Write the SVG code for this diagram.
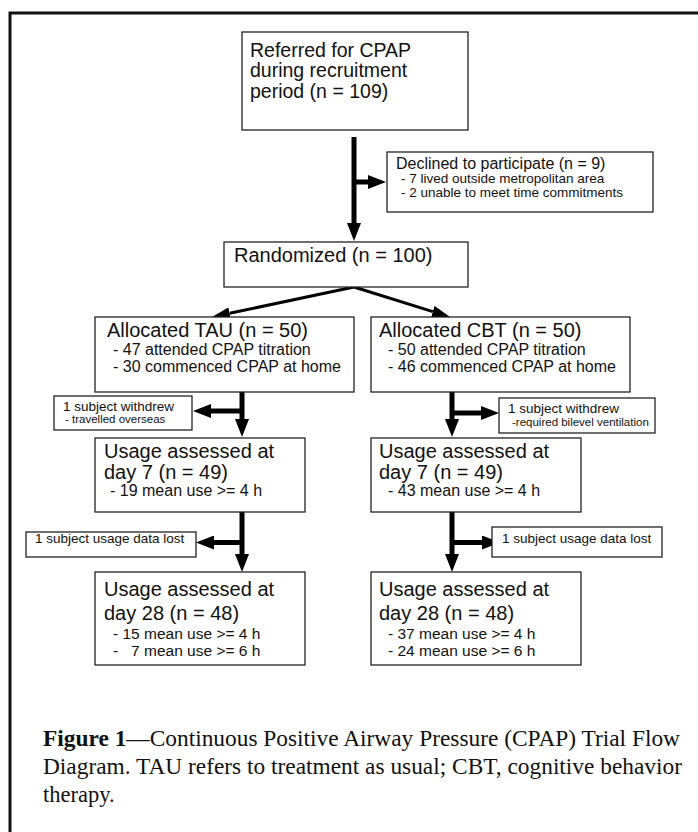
<svg xmlns="http://www.w3.org/2000/svg" width="698" height="832" viewBox="0 0 698 832">
<defs>
<style>
.box{fill:#fff;stroke:#222;stroke-width:1.3}
.t{font-family:"Liberation Sans",Arial,sans-serif;fill:#111}
.h{font-size:20px}
.h2{font-size:19.5px}
.s{font-size:16px}
.s2{font-size:15.5px}
.m{font-size:13.5px}
.xs{font-size:11.5px}
.c{font-family:"Liberation Serif","Times New Roman",serif;font-size:22.5px;fill:#111}
.thick{stroke:#000;stroke-width:5;fill:none}
.thin{stroke:#000;stroke-width:3;fill:none}
</style>
<marker id="ah" markerUnits="userSpaceOnUse" markerWidth="18" markerHeight="14" viewBox="0 0 18 14" refX="0" refY="7" orient="auto">
<path d="M0,0 L18,7 L0,14 z" fill="#000"/>
</marker>
<marker id="ahs" markerUnits="userSpaceOnUse" markerWidth="18" markerHeight="12" viewBox="0 0 18 12" refX="0" refY="6" orient="auto">
<path d="M0,0 L18,6 L0,12 z" fill="#000"/>
</marker>
</defs>
<rect width="698" height="832" fill="#fff"/>
<path d="M10,832 V13 H698" fill="none" stroke="#111" stroke-width="3"/>

<g id="connectors">
<line class="thick" x1="354" y1="137" x2="354" y2="223" marker-end="url(#ah)"/>
<line class="thick" x1="354" y1="182" x2="368" y2="182" marker-end="url(#ah)"/>
<line class="thin" x1="354" y1="287" x2="229.6" y2="313.3" marker-end="url(#ahs)"/>
<line class="thin" x1="354" y1="287" x2="432.8" y2="311.6" marker-end="url(#ahs)"/>
<line class="thick" x1="242" y1="392" x2="242" y2="419" marker-end="url(#ah)"/>
<line class="thick" x1="242" y1="411" x2="211" y2="411" marker-end="url(#ah)"/>
<line class="thick" x1="452" y1="392" x2="452" y2="419" marker-end="url(#ah)"/>
<line class="thick" x1="452" y1="413" x2="481" y2="413" marker-end="url(#ah)"/>
<line class="thick" x1="242" y1="512" x2="242" y2="554" marker-end="url(#ah)"/>
<line class="thick" x1="242" y1="542.5" x2="214" y2="542.5" marker-end="url(#ah)"/>
<line class="thick" x1="452" y1="512" x2="452" y2="554" marker-end="url(#ah)"/>
<line class="thick" x1="452" y1="542.5" x2="482" y2="542.5" marker-end="url(#ah)"/>
</g>

<g id="referred">
<rect class="box" x="242" y="32" width="226" height="98"/>
<text class="t h2" x="250" y="57">Referred for CPAP</text>
<text class="t h2" x="250" y="77">during recruitment</text>
<text class="t h2" x="250" y="98">period (n = 109)</text>
</g>

<g id="declined">
<rect class="box" x="387" y="152" width="266" height="60"/>
<text class="t s" x="396" y="169">Declined to participate (n = 9)</text>
<text class="t m" x="401" y="183">- 7 lived outside metropolitan area</text>
<text class="t m" x="401" y="197">- 2 unable to meet time commitments</text>
</g>

<g id="randomized">
<rect class="box" x="224" y="242" width="244" height="45"/>
<text class="t h" x="234" y="262">Randomized (n = 100)</text>
</g>

<g id="tau">
<rect class="box" x="95" y="317" width="259" height="75"/>
<text class="t h" x="107" y="337">Allocated TAU (n = 50)</text>
<text class="t s" x="113" y="355">- 47 attended CPAP titration</text>
<text class="t s" x="113" y="372">- 30 commenced CPAP at home</text>
</g>

<g id="cbt">
<rect class="box" x="371" y="317" width="259" height="75"/>
<text class="t h" x="379" y="337">Allocated CBT (n = 50)</text>
<text class="t s" x="388" y="355">- 50 attended CPAP titration</text>
<text class="t s" x="388" y="372">- 46 commenced CPAP at home</text>
</g>

<g id="tau-withdrew">
<rect class="box" x="54" y="396" width="138" height="34"/>
<text class="t m" x="63" y="411">1 subject withdrew</text>
<text class="t xs" x="65" y="423">- travelled overseas</text>
</g>

<g id="cbt-withdrew">
<rect class="box" x="499" y="398" width="156" height="35"/>
<text class="t m" x="508" y="413">1 subject withdrew</text>
<text class="t xs" x="512" y="426">-required bilevel ventilation</text>
</g>

<g id="tau-day7">
<rect class="box" x="95" y="438" width="210" height="74"/>
<text class="t h" x="104" y="458">Usage assessed at</text>
<text class="t h" x="104" y="479">day 7 (n = 49)</text>
<text class="t s" x="110" y="496">- 19 mean use &gt;= 4 h</text>
</g>

<g id="cbt-day7">
<rect class="box" x="371" y="438" width="210" height="74"/>
<text class="t h" x="379" y="458">Usage assessed at</text>
<text class="t h" x="379" y="479">day 7 (n = 49)</text>
<text class="t s" x="388" y="496">- 43 mean use &gt;= 4 h</text>
</g>

<g id="tau-lost">
<rect class="box" x="26" y="532" width="170" height="25"/>
<text class="t m" x="35" y="543">1 subject usage data lost</text>
</g>

<g id="cbt-lost">
<rect class="box" x="492" y="527" width="170" height="30"/>
<text class="t m" x="502" y="543">1 subject usage data lost</text>
</g>

<g id="tau-day28">
<rect class="box" x="95" y="572" width="210" height="93"/>
<text class="t h" x="104" y="596">Usage assessed at</text>
<text class="t h" x="104" y="620">day 28 (n = 48)</text>
<text class="t s2" x="113" y="639">- 15 mean use &gt;= 4 h</text>
<text class="t s2" x="113" y="656" style="white-space:pre">-   7 mean use &gt;= 6 h</text>
</g>

<g id="cbt-day28">
<rect class="box" x="371" y="572" width="210" height="93"/>
<text class="t h" x="379" y="596">Usage assessed at</text>
<text class="t h" x="379" y="620">day 28 (n = 48)</text>
<text class="t s2" x="388" y="639">- 37 mean use &gt;= 4 h</text>
<text class="t s2" x="388" y="656">- 24 mean use &gt;= 6 h</text>
</g>

<g id="caption">
<text class="c" x="43" y="746" textLength="637" lengthAdjust="spacingAndGlyphs"><tspan font-weight="bold">Figure 1</tspan>—Continuous Positive Airway Pressure (CPAP) Trial Flow</text>
<text class="c" x="43" y="774" textLength="639" lengthAdjust="spacingAndGlyphs">Diagram. TAU refers to treatment as usual; CBT, cognitive behavior</text>
<text class="c" x="43" y="802">therapy.</text>
</g>
</svg>
